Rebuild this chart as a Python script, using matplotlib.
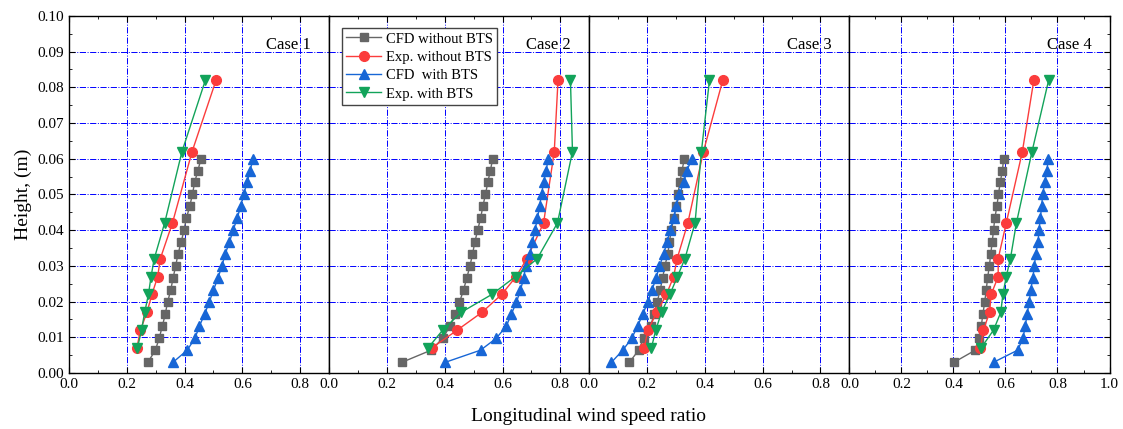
import numpy as np
import matplotlib.pyplot as plt
from matplotlib.ticker import MultipleLocator, FormatStrFormatter

plt.rcParams['font.family'] = 'Liberation Serif'

# heights (m)
h_cfd = [0.003, 0.0064, 0.0097, 0.0131, 0.0164, 0.0198, 0.0232, 0.0265, 0.0299,
         0.0332, 0.0366, 0.04, 0.0433, 0.0467, 0.05, 0.0534, 0.0567, 0.06]
h_exp = [0.007, 0.012, 0.017, 0.022, 0.027, 0.032, 0.042, 0.062, 0.082]

# Case 1
c1_cfd_wo = [0.273, 0.299, 0.312, 0.323, 0.333, 0.341, 0.352, 0.36, 0.369,
             0.377, 0.388, 0.398, 0.406, 0.418, 0.427, 0.435, 0.446, 0.457]
c1_exp_wo = [0.235, 0.247, 0.27, 0.287, 0.307, 0.316, 0.358, 0.426, 0.509]
c1_cfd_w = [0.36, 0.409, 0.436, 0.451, 0.469, 0.485, 0.5, 0.515, 0.529,
            0.54, 0.555, 0.568, 0.582, 0.594, 0.604, 0.617, 0.626, 0.638]
c1_exp_w = [0.237, 0.251, 0.262, 0.275, 0.284, 0.295, 0.331, 0.391, 0.472]

# Case 2
c2_cfd_wo = [0.252, 0.353, 0.393, 0.418, 0.435, 0.451, 0.465, 0.476, 0.487,
             0.496, 0.504, 0.514, 0.524, 0.532, 0.541, 0.549, 0.558, 0.566]
c2_exp_wo = [0.355, 0.443, 0.529, 0.597, 0.647, 0.684, 0.742, 0.779, 0.792]
c2_cfd_w = [0.402, 0.524, 0.578, 0.613, 0.63, 0.648, 0.662, 0.673, 0.68,
            0.694, 0.703, 0.712, 0.721, 0.728, 0.735, 0.742, 0.751, 0.758]
c2_exp_w = [0.342, 0.393, 0.457, 0.563, 0.645, 0.72, 0.79, 0.842, 0.835]

# Case 3
c3_cfd_wo = [0.139, 0.171, 0.188, 0.212, 0.224, 0.235, 0.245, 0.254, 0.261,
             0.272, 0.277, 0.284, 0.292, 0.301, 0.306, 0.314, 0.321, 0.329]
c3_exp_wo = [0.19, 0.203, 0.234, 0.267, 0.292, 0.304, 0.341, 0.395, 0.462]
c3_cfd_w = [0.077, 0.116, 0.147, 0.167, 0.185, 0.202, 0.217, 0.231, 0.243,
            0.257, 0.269, 0.28, 0.292, 0.301, 0.312, 0.327, 0.338, 0.355]
c3_exp_w = [0.215, 0.23, 0.25, 0.279, 0.305, 0.331, 0.366, 0.388, 0.416]

# Case 4
c4_cfd_wo = [0.402, 0.484, 0.498, 0.507, 0.513, 0.52, 0.526, 0.531, 0.538,
             0.543, 0.549, 0.554, 0.559, 0.567, 0.573, 0.58, 0.588, 0.593]
c4_exp_wo = [0.504, 0.515, 0.539, 0.545, 0.572, 0.572, 0.603, 0.665, 0.709]
c4_cfd_w = [0.554, 0.647, 0.667, 0.676, 0.683, 0.691, 0.697, 0.705, 0.711,
            0.716, 0.725, 0.729, 0.734, 0.739, 0.743, 0.751, 0.759, 0.765]
c4_exp_w = [0.506, 0.554, 0.582, 0.59, 0.603, 0.619, 0.642, 0.702, 0.766]

cases = ['Case 1', 'Case 2', 'Case 3', 'Case 4']
cfd_wo = [c1_cfd_wo, c2_cfd_wo, c3_cfd_wo, c4_cfd_wo]
exp_wo = [c1_exp_wo, c2_exp_wo, c3_exp_wo, c4_exp_wo]
cfd_w = [c1_cfd_w, c2_cfd_w, c3_cfd_w, c4_cfd_w]
exp_w = [c1_exp_w, c2_exp_w, c3_exp_w, c4_exp_w]
xmax = [0.9, 0.9, 0.9, 1.0]

fig, axes = plt.subplots(1, 4, figsize=(11.23, 4.29), dpi=100, sharey=True)
fig.subplots_adjust(left=0.0614, right=0.988, top=0.963, bottom=0.1305, wspace=0)

for i, ax in enumerate(axes):
    ax.plot(cfd_wo[i], h_cfd, '-s', color='#666666', ms=6, lw=1, label='CFD without BTS')
    ax.plot(exp_wo[i], h_exp, '-o', color='#fb3c3c', ms=7, lw=1, label='Exp. without BTS')
    ax.plot(cfd_w[i], h_cfd, '-^', color='#1766d6', ms=7, lw=1, label='CFD  with BTS')
    ax.plot(exp_w[i], h_exp, '-v', color='#12a35a', ms=7, lw=1, label='Exp. with BTS')

    ax.set_xlim(0, xmax[i])
    ax.set_ylim(0, 0.1)
    ax.xaxis.set_major_locator(MultipleLocator(0.2))
    ax.xaxis.set_minor_locator(MultipleLocator(0.1))
    ax.xaxis.set_major_formatter(FormatStrFormatter('%.1f'))
    ax.yaxis.set_major_locator(MultipleLocator(0.01))
    ax.yaxis.set_minor_locator(MultipleLocator(0.005))
    ax.yaxis.set_major_formatter(FormatStrFormatter('%.2f'))
    ax.grid(True, which='major', color='#0000ff', linestyle='-.', linewidth=0.7)
    ax.set_axisbelow(True)
    ax.tick_params(which='both', direction='in', top=True, left=(i == 0), right=(i == 3),
                   labelsize=11)
    ax.tick_params(which='major', length=4)
    ax.tick_params(which='minor', length=2.5)
    for s in ax.spines.values():
        s.set_linewidth(1.0)
    ax.text(0.93, 0.918, cases[i], transform=ax.transAxes, ha='right', va='center',
            fontsize=12)

axes[0].set_ylabel('Height, (m)', fontsize=14)

leg = axes[1].legend(loc='upper left', bbox_to_anchor=(0.05, 0.966), fontsize=10.5,
                     fancybox=False, edgecolor='#444444', framealpha=1,
                     handlelength=2.4, handletextpad=0.3, borderpad=0.3,
                     labelspacing=0.35, borderaxespad=0)
leg.get_frame().set_linewidth(1.0)

fig.text(0.524, 0.03, 'Longitudinal wind speed ratio', ha='center', va='center', fontsize=14)

plt.savefig('out.png', dpi=100)
